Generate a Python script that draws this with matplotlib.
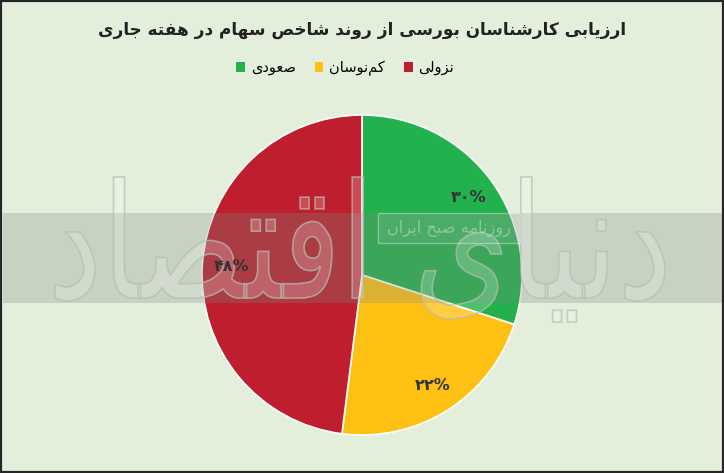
import matplotlib
matplotlib.use("Agg")
import matplotlib.pyplot as plt
from matplotlib.patches import Rectangle, PathPatch
from matplotlib.textpath import TextPath
from matplotlib.font_manager import FontProperties
from matplotlib.transforms import Affine2D

# chart data
title = "ارزیابی کارشناسان بورسی از روند شاخص سهام در هفته جاری"
categories = ["صعودی", "کم\u200cنوسان", "نزولی"]
values = [30, 22, 48]
value_labels = ["۳۰%", "۲۲%", "۴۸%"]
colors = ["#22b14c", "#fec113", "#be1e2d"]
watermark = "دنیای اقتصاد"
watermark_small = "روزنامه صبح ایران"

BG = "#e3eedb"

# isolated, final, initial, medial presentation forms
FORMS = {
    "ا": ("\uFE8D", "\uFE8E", None, None),
    "ب": ("\uFE8F", "\uFE90", "\uFE91", "\uFE92"),
    "ت": ("\uFE95", "\uFE96", "\uFE97", "\uFE98"),
    "ج": ("\uFE9D", "\uFE9E", "\uFE9F", "\uFEA0"),
    "ح": ("\uFEA1", "\uFEA2", "\uFEA3", "\uFEA4"),
    "خ": ("\uFEA5", "\uFEA6", "\uFEA7", "\uFEA8"),
    "د": ("\uFEA9", "\uFEAA", None, None),
    "ر": ("\uFEAD", "\uFEAE", None, None),
    "ز": ("\uFEAF", "\uFEB0", None, None),
    "س": ("\uFEB1", "\uFEB2", "\uFEB3", "\uFEB4"),
    "ش": ("\uFEB5", "\uFEB6", "\uFEB7", "\uFEB8"),
    "ص": ("\uFEB9", "\uFEBA", "\uFEBB", "\uFEBC"),
    "ع": ("\uFEC9", "\uFECA", "\uFECB", "\uFECC"),
    "ف": ("\uFED1", "\uFED2", "\uFED3", "\uFED4"),
    "ق": ("\uFED5", "\uFED6", "\uFED7", "\uFED8"),
    "ل": ("\uFEDD", "\uFEDE", "\uFEDF", "\uFEE0"),
    "م": ("\uFEE1", "\uFEE2", "\uFEE3", "\uFEE4"),
    "ن": ("\uFEE5", "\uFEE6", "\uFEE7", "\uFEE8"),
    "ه": ("\uFEE9", "\uFEEA", "\uFEEB", "\uFEEC"),
    "و": ("\uFEED", "\uFEEE", None, None),
    "ی": ("\uFBFC", "\uFBFD", "\uFBFE", "\uFBFF"),
    "ک": ("\uFB8E", "\uFB8F", "\uFB90", "\uFB91"),
}


def shape(s):
    # join letters and put them in visual order (right to left)
    out = []
    for i, c in enumerate(s):
        if c not in FORMS:
            out.append(c)
            continue
        iso, fin, ini, med = FORMS[c]
        prev = s[i - 1] if i > 0 else ""
        nxt = s[i + 1] if i + 1 < len(s) else ""
        jp = prev in FORMS and FORMS[prev][2] is not None
        jn = ini is not None and nxt in FORMS
        if jp and jn:
            out.append(med)
        elif jp:
            out.append(fin)
        elif jn:
            out.append(ini)
        else:
            out.append(iso)
    return "".join(c for c in out if c != "\u200c")[::-1]


def text_outline(s, x0, y0, w, h):
    # glyph outline of s stretched into the pixel box (x0, y0, w, h)
    tp = TextPath((0, 0), shape(s), size=100, prop=FontProperties(family="DejaVu Sans"))
    ext = tp.get_extents()
    tr = (Affine2D().translate(-ext.x0, -ext.y0)
          .scale(w / ext.width, h / ext.height).translate(x0, y0))
    return tr.transform_path(tp)


W, H = 724, 473
fig = plt.figure(figsize=(W / 100, H / 100), dpi=100, facecolor=BG)

cx, cy, r = 362, 275, 160
rect = [(cx - r) / W, (H - cy - r) / H, 2 * r / W, 2 * r / H]
ax = fig.add_axes(rect)
ax.set_facecolor("none")

wedges, texts = ax.pie(
    values,
    colors=colors,
    startangle=90,
    counterclock=False,
    radius=1,
    labels=value_labels,
    labeldistance=0.82,
    wedgeprops=dict(edgecolor="white", linewidth=1.2),
)
ax.set_xlim(-1, 1)
ax.set_ylim(-1, 1)
ax.set_aspect("equal")

# watermark layer (band + outlined lettering), drawn over the pie
over = fig.add_axes([0, 0, 1, 1], zorder=6)
over.set_xlim(0, W)
over.set_ylim(0, H)
over.axis("off")
over.add_patch(Rectangle((3, H - 303), 719, 90, facecolor="#7f8a7f",
                         alpha=0.28, edgecolor="none"))
over.add_patch(PathPatch(text_outline(watermark, 55, H - 322, 610, 145),
                         facecolor=(1, 1, 1, 0.2), edgecolor=(0.71, 0.75, 0.69, 0.7),
                         linewidth=1.2))
over.add_patch(Rectangle((378, H - 243), 142, 30, facecolor=(1, 1, 1, 0.08),
                         edgecolor=(1, 1, 1, 0.35), linewidth=1))
over.add_patch(PathPatch(text_outline(watermark_small, 388, H - 237, 122, 17),
                         facecolor=(1, 1, 1, 0.35), edgecolor="none"))

# value labels go on a top layer so the watermark does not hide them
top = fig.add_axes(rect, zorder=8)
top.set_xlim(-1, 1)
top.set_ylim(-1, 1)
top.set_aspect("equal")
top.axis("off")
for t in texts:
    x, y = t.get_position()
    top.text(x, y, t.get_text(), ha="center", va="center",
             fontsize=11.5, fontweight="bold", color="#333333")
    t.set_visible(False)

fig.text(0.5, 1 - 30 / H, shape(title), ha="center", va="center",
         fontsize=12.2, fontweight="bold", color="#222222")

leg = fig.legend(
    wedges,
    [shape(c) for c in categories],
    loc="center",
    bbox_to_anchor=(0.477, 1 - 68 / H),
    ncol=3,
    frameon=False,
    fontsize=10.5,
    handlelength=0.6,
    handleheight=0.6,
    handletextpad=0.4,
    columnspacing=1.3,
)
for h in leg.legend_handles:
    h.set_edgecolor("none")

# outer frame
fig.patches.append(Rectangle((0, 0), 1, 1, transform=fig.transFigure,
                             facecolor="none", edgecolor="#262626",
                             linewidth=3, zorder=10))

fig.savefig("out.png", dpi=100, facecolor=BG)
